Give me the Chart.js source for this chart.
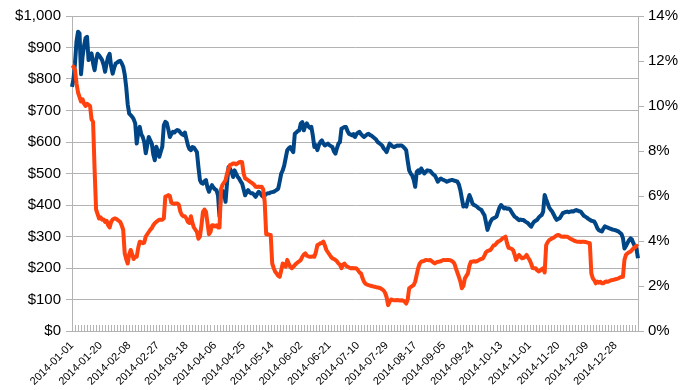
<!DOCTYPE html>
<html>
<head>
<meta charset="utf-8">
<script src="https://cdn.jsdelivr.net/npm/chart.js@4"></script>
<style>
  html, body { margin: 0; padding: 0; background: #fff; }
  #wrap { width: 693px; height: 390px; }
</style>
</head>
<body>
<div id="wrap"><canvas id="chart"></canvas></div>
<script>
// daily categories, 2014-01-01 .. 2015-01-12
const startDate = '2014-01-01';
const dayCount = 377;
const labelEvery = 19;

// price (left axis, $)
const price = [
  775, 800, 850, 920, 950, 945, 815, 870, 905, 930,
  934, 860, 875, 881, 850, 828, 860, 880, 875, 868,
  860, 845, 823, 850, 870, 880, 840, 817, 835, 849,
  852, 856, 858, 850, 839, 815, 775, 720, 690, 685,
  680, 672, 659, 595, 630, 648, 625, 616, 600, 564,
  590, 616, 605, 595, 560, 542, 585, 570, 553, 570,
  585, 653, 664, 660, 640, 616, 625, 632, 630, 635,
  638, 636, 630, 625, 622, 630, 610, 590, 578, 574,
  584, 582, 575, 568, 520, 479, 470, 468, 475, 479,
  455, 442, 455, 463, 455, 450, 447, 430, 363, 447,
  445, 440, 410, 470, 521, 515, 505, 489, 510, 500,
  490, 484, 475, 468, 450, 431, 440, 447, 440, 437,
  437, 432, 426, 435, 442, 438, 430, 426, 430, 435,
  437, 437, 440, 441, 442, 445, 448, 452, 475, 500,
  510, 526, 550, 574, 580, 584, 575, 568, 626, 630,
  635, 637, 659, 663, 637, 652, 659, 650, 645, 648,
  620, 584, 590, 574, 590, 600, 605, 595, 589, 592,
  595, 590, 587, 584, 570, 563, 580, 595, 600, 642,
  645, 648, 648, 635, 626, 624, 621, 625, 616, 625,
  630, 632, 625, 620, 616, 620, 624, 626, 622, 620,
  616, 612, 608, 600, 597, 593, 589, 580, 575, 568,
  582, 595, 590, 586, 584, 586, 589, 588, 589, 589,
  585, 580, 574, 540, 510, 500, 494, 480, 458, 505,
  510, 502, 516, 508, 500, 505, 510, 509, 508, 502,
  497, 494, 485, 474, 480, 484, 481, 479, 477, 474,
  476, 478, 479, 479, 477, 476, 474, 465, 447, 420,
  395, 398, 395, 415, 432, 420, 405, 400, 398, 395,
  390, 387, 384, 375, 368, 345, 321, 335, 347, 355,
  358, 360, 363, 378, 392, 400, 395, 389, 391, 388,
  389, 386, 378, 370, 363, 360, 356, 352, 354, 352,
  352, 348, 345, 342, 336, 331, 340, 347, 350, 353,
  360, 365, 368, 379, 432, 418, 405, 392, 385, 379,
  370, 360, 353, 356, 358, 366, 374, 376, 378, 379,
  377, 379, 380, 379, 382, 384, 382, 380, 379, 372,
  366, 363, 360, 356, 353, 350, 349, 347, 338, 326,
  320, 318, 316, 325, 332, 330, 328, 326, 324, 322,
  321, 320, 318, 316, 312, 308, 295, 262, 270, 279,
  288, 294, 290, 278, 268, 260, 231
];

// percentage (right axis, %)
const pct = [
  11.8, 11.75, 11.6, 11.0, 10.6, 10.4, 10.2, 10.3, 10.1, 10.0,
  10.1, 10.05, 10.0, 9.4, 9.3, 7.2, 5.4, 5.2, 5.0, 5.05,
  4.95, 4.96, 4.85, 4.9, 4.7, 4.6, 4.85, 4.95, 5.0, 5.0,
  4.95, 4.9, 4.85, 4.7, 4.5, 3.46, 3.2, 3.0, 3.4, 3.6,
  3.4, 3.2, 3.3, 3.3, 3.7, 3.97, 3.95, 3.9, 3.93, 4.2,
  4.3, 4.4, 4.5, 4.57, 4.7, 4.79, 4.85, 4.9, 4.95, 4.95,
  4.95, 5.0, 5.97, 6.0, 6.04, 6.0, 5.7, 5.67, 5.65, 5.67,
  5.67, 5.6, 5.3, 5.16, 5.1, 5.1, 5.0, 4.85, 4.8, 5.1,
  4.8, 4.6, 4.5, 4.4, 4.1, 4.2, 4.7, 5.3, 5.4, 5.3,
  4.8, 4.3, 4.4, 4.7, 4.7, 4.65, 4.7, 4.6, 4.6, 6.3,
  6.5, 6.6, 6.7, 7.0, 7.2, 7.38, 7.4, 7.45, 7.45, 7.4,
  7.45, 7.5, 7.52, 7.5, 7.0, 6.78, 6.75, 6.7, 6.65, 6.6,
  6.56, 6.5, 6.41, 6.4, 6.42, 6.4, 6.41, 6.3, 5.74, 4.3,
  4.3, 4.28, 4.27, 3.0, 2.8, 2.63, 2.55, 2.45, 2.41, 2.7,
  3.0, 2.95, 2.86, 3.16, 3.0, 2.85, 2.79, 2.85, 2.93, 3.0,
  3.05, 3.1, 3.16, 3.3, 3.4, 3.45, 3.35, 3.32, 3.3, 3.3,
  3.32, 3.3, 3.5, 3.82, 3.85, 3.9, 3.92, 3.97, 3.8, 3.6,
  3.5, 3.4, 3.3, 3.23, 3.2, 3.16, 3.1, 3.0, 2.95, 2.79,
  2.95, 3.0, 2.9, 2.86, 2.82, 2.79, 2.8, 2.79, 2.79, 2.78,
  2.7, 2.6, 2.56, 2.35, 2.19, 2.1, 2.06, 2.04, 2.02, 2.0,
  1.98, 1.97, 1.95, 1.93, 1.92, 1.9, 1.85, 1.8, 1.7, 1.5,
  1.15, 1.3, 1.4, 1.38, 1.37, 1.37, 1.38, 1.37, 1.36, 1.37,
  1.35, 1.3, 1.22, 1.4, 1.9, 1.95, 2.0, 2.04, 2.2, 2.5,
  2.8, 3.0, 3.08, 3.1, 3.12, 3.16, 3.15, 3.14, 3.16, 3.1,
  3.05, 3.0, 3.05, 3.08, 3.08, 3.1, 3.14, 3.16, 3.15, 3.16,
  3.16, 3.15, 3.12, 3.08, 3.0, 2.79, 2.6, 2.41, 2.2, 1.9,
  2.0, 2.34, 2.45, 2.56, 2.9, 3.08, 3.08, 3.1, 3.08, 3.1,
  3.14, 3.18, 3.2, 3.23, 3.35, 3.5, 3.55, 3.58, 3.6, 3.7,
  3.8, 3.82, 3.9, 3.97, 4.0, 4.05, 4.12, 4.15, 4.19, 3.9,
  3.7, 3.68, 3.65, 3.6, 3.4, 3.16, 3.3, 3.38, 3.3, 3.23,
  3.25, 3.3, 3.38, 3.25, 3.16, 3.0, 2.8, 2.79, 2.79, 2.7,
  2.65, 2.68, 2.75, 2.79, 2.6, 3.82, 3.95, 4.04, 4.08, 4.12,
  4.15, 4.2, 4.25, 4.27, 4.24, 4.2, 4.19, 4.2, 4.19, 4.19,
  4.15, 4.1, 4.07, 4.04, 4.0, 3.98, 3.97, 3.97, 3.96, 3.97,
  3.97, 3.96, 3.94, 3.92, 3.9, 2.56, 2.34, 2.25, 2.12, 2.2,
  2.15, 2.19, 2.12, 2.12, 2.18, 2.2, 2.19, 2.22, 2.25, 2.27,
  2.28, 2.3, 2.32, 2.34, 2.38, 2.4, 2.41, 3.16, 3.38, 3.45,
  3.5, 3.53, 3.6, 3.68, 3.72, 3.79, 3.75
];

// build category labels
const dates = [];
const d0 = new Date(startDate + 'T00:00:00Z');
for (let i = 0; i < dayCount; i++) {
  const d = new Date(d0.getTime() + i * 86400000);
  dates.push(d.toISOString().slice(0, 10));
}

const gridCol = '#b3b3b3';
const font = "'Liberation Sans', Arial, sans-serif";

// small inward tick marks along the bottom axis
const innerTicks = {
  id: 'innerTicks',
  afterDraw(chart) {
    const x = chart.scales.x;
    const area = chart.chartArea;
    const c = chart.ctx;
    c.save();
    c.strokeStyle = gridCol;
    c.lineWidth = 1;
    c.beginPath();
    for (let i = 0; i < dates.length; i += 2) {
      const px = Math.round(x.getPixelForValue(i)) + 0.5;
      c.moveTo(px, area.bottom - 6);
      c.lineTo(px, area.bottom);
    }
    c.stroke();
    c.restore();
  }
};

new Chart(document.getElementById('chart'), {
  type: 'line',
  data: {
    labels: dates,
    datasets: [
      {
        label: 'Price',
        data: price,
        yAxisID: 'y',
        borderColor: '#004586',
        borderWidth: 4,
        pointRadius: 0,
        borderJoinStyle: 'round',
        order: 2
      },
      {
        label: 'Percent',
        data: pct,
        yAxisID: 'y1',
        borderColor: '#ff420e',
        borderWidth: 4,
        pointRadius: 0,
        borderJoinStyle: 'round',
        order: 1
      }
    ]
  },
  options: {
    responsive: true,
    maintainAspectRatio: false,
    animation: false,
    layout: { padding: { left: 0, right: 0, top: 16, bottom: 0 } },
    plugins: { legend: { display: false }, tooltip: { enabled: false } },
    scales: {
      x: {
        offset: false,
        grid: { display: false },
        border: { display: true, color: gridCol },
        afterFit: s => { s.height = 59; },
        ticks: {
          autoSkip: false,
          minRotation: 45,
          maxRotation: 45,
          padding: 0,
          color: '#000',
          font: { family: font, size: 11 },
          callback: (v, i) => (i % labelEvery === 0 ? dates[i] : null)
        }
      },
      y: {
        position: 'left',
        min: 0,
        max: 1000,
        grid: { color: gridCol, tickLength: 6 },
        border: { color: gridCol },
        afterFit: s => { s.width = 72; },
        ticks: {
          stepSize: 100,
          padding: 5,
          color: '#000',
          font: { family: font, size: 15 },
          callback: v => '$' + v.toLocaleString('en-US')
        }
      },
      y1: {
        position: 'right',
        min: 0,
        max: 14,
        grid: { drawOnChartArea: false, color: gridCol, tickLength: 6 },
        border: { color: gridCol },
        afterFit: s => { s.width = 55; },
        ticks: {
          stepSize: 2,
          padding: 4,
          color: '#000',
          font: { family: font, size: 15 },
          callback: v => v + '%'
        }
      }
    }
  },
  plugins: [innerTicks]
});
</script>
</body>
</html>
